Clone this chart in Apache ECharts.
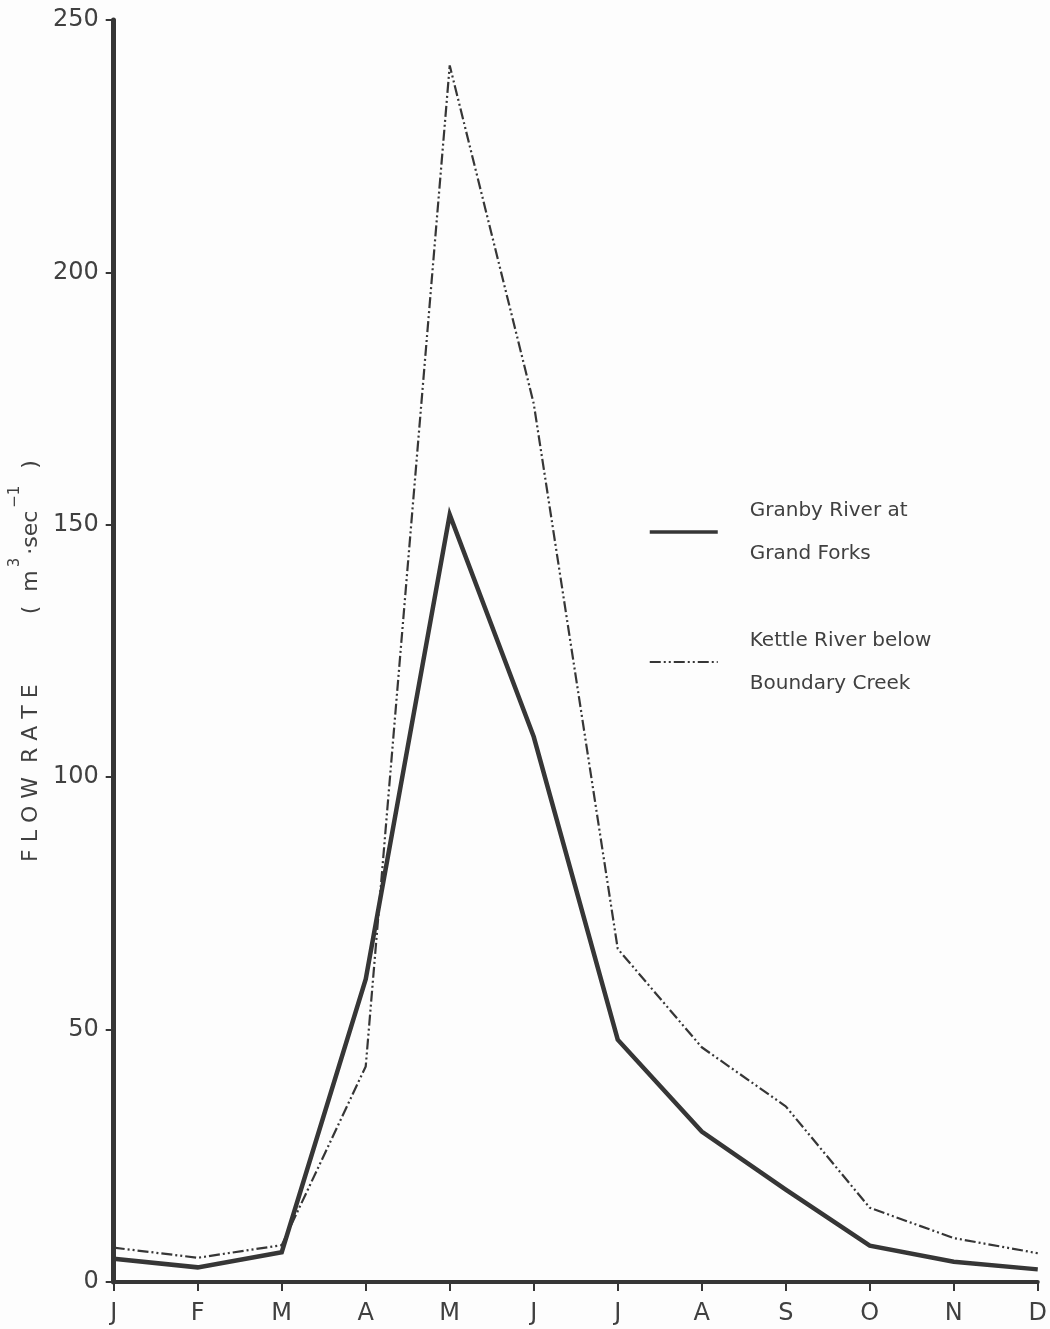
<!DOCTYPE html>
<html>
<head>
<meta charset="utf-8">
<title>Monthly flow rate</title>
<script src="https://cdn.jsdelivr.net/npm/echarts@6/dist/echarts.min.js"></script>
<style>
  html, body { margin: 0; padding: 0; background: #fdfdfd; }
  #chart { width: 1050px; height: 1329px; }
</style>
</head>
<body>
<div id="chart"></div>
<script>
// Month initials along the x axis
const months = ['J', 'F', 'M', 'A', 'M', 'J', 'J', 'A', 'S', 'O', 'N', 'D'];

// Mean monthly flow, m3/sec
const granbyFlow = [4.6, 2.9, 5.9, 60, 152, 108, 48, 29.8, 18.3, 7.2, 4.0, 2.5];
const kettleFlow = [6.8, 4.8, 7.3, 42.7, 241, 174, 66, 46.5, 34.8, 14.7, 8.7, 5.7];

// Series names as shown in the key
const granbyName = 'Granby River at\nGrand Forks';
const kettleName = 'Kettle River below\nBoundary Creek';

// Flow-rate axis range
const yMin = 0, yMax = 250, yStep = 50;

const ink = '#363636';
const textInk = '#404040';
const font = 'DejaVu Sans';
const solidStyle = { color: ink, width: 4.5, join: 'miter' };
const dashDotStyle = { color: ink, width: 2.2, type: [11, 3, 2, 3, 2, 3] };

const chart = echarts.init(document.getElementById('chart'), null, { renderer: 'canvas' });

chart.setOption({
  backgroundColor: '#fdfdfd',
  animation: false,
  grid: { left: 112, right: 11, top: 20, bottom: 47, containLabel: false },
  legend: {
    orient: 'vertical',
    left: 643,
    top: 484,
    itemWidth: 68,
    itemHeight: 14,
    itemGap: 44,
    data: [
      { name: granbyName, lineStyle: { width: 3.5 } },
      { name: kettleName, lineStyle: { width: 2.2 } }
    ],
    itemStyle: { color: 'transparent', borderWidth: 0, opacity: 0 },
    textStyle: {
      fontFamily: font,
      fontSize: 20,
      color: textInk,
      lineHeight: 43,
      padding: [0, 0, 0, 27]
    }
  },
  xAxis: {
    type: 'category',
    data: months,
    boundaryGap: false,
    axisLine: { lineStyle: { color: ink, width: 4 } },
    axisTick: { alignWithLabel: true, length: 9, lineStyle: { color: ink, width: 2 } },
    axisLabel: { fontFamily: font, fontSize: 24, color: textInk, margin: 20 },
    splitLine: { show: false }
  },
  yAxis: {
    type: 'value',
    min: yMin,
    max: yMax,
    interval: yStep,
    name: '{t|F L O W  R A T E}{g| }{t|(  m}{s|3}{t|·sec}{s|−1}{t|  )}',
    nameLocation: 'middle',
    nameGap: 70,
    nameRotate: 90,
    nameTextStyle: {
      padding: [0, 20, 0, 0],
      rich: {
        t: { fontFamily: font, fontSize: 22, color: textInk, lineHeight: 34, verticalAlign: 'bottom' },
        s: { fontFamily: font, fontSize: 15, color: textInk, lineHeight: 34, verticalAlign: 'top', padding: [0, 3, 0, 3] },
        g: { fontFamily: font, fontSize: 22, width: 70 }
      }
    },
    axisLine: { show: true, lineStyle: { color: ink, width: 5 } },
    axisTick: { show: true, length: 8, lineStyle: { color: ink, width: 2 } },
    axisLabel: { fontFamily: font, fontSize: 24, color: textInk, margin: 15 },
    splitLine: { show: false }
  },
  series: [
    {
      name: granbyName,
      type: 'line',
      data: granbyFlow,
      symbol: 'none',
      lineStyle: solidStyle,
      itemStyle: { color: ink },
      z: 3
    },
    {
      name: kettleName,
      type: 'line',
      data: kettleFlow,
      symbol: 'none',
      lineStyle: dashDotStyle,
      itemStyle: { color: ink },
      z: 2
    }
  ]
});
</script>
</body>
</html>
